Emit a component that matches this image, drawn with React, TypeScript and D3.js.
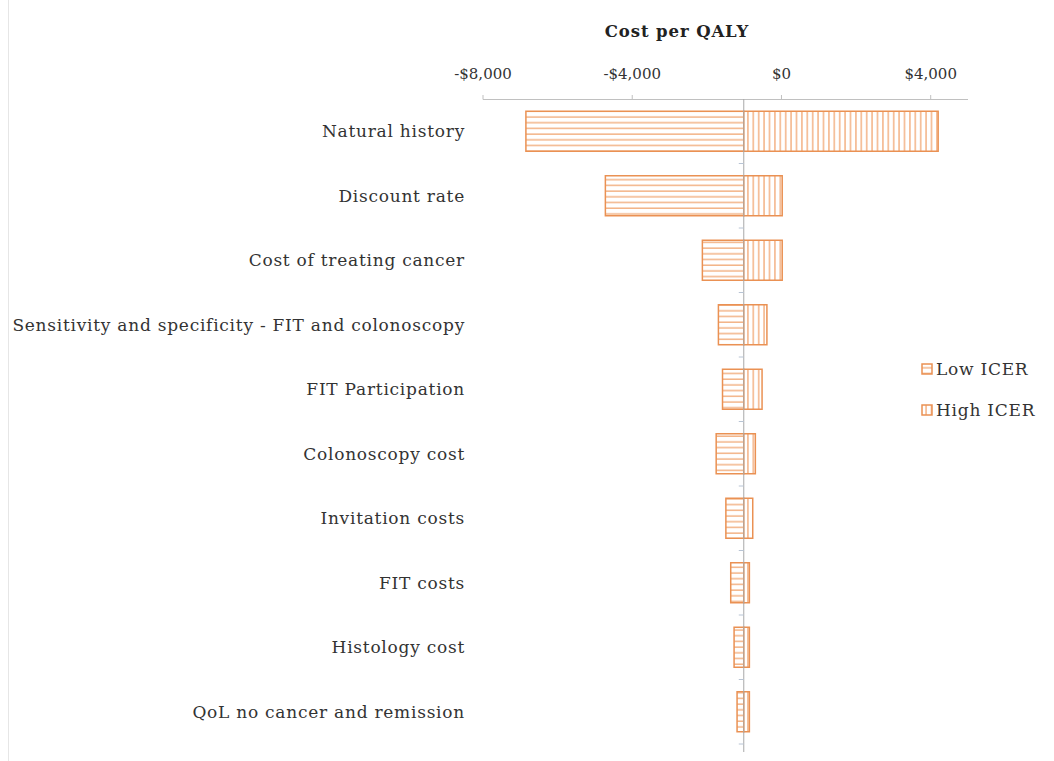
import React from 'react';
import * as d3 from 'd3';

// tornado chart: cost per QALY sensitivity
const categories = [
  'Natural history',
  'Discount rate',
  'Cost of treating cancer',
  'Sensitivity and specificity - FIT and colonoscopy',
  'FIT Participation',
  'Colonoscopy cost',
  'Invitation costs',
  'FIT costs',
  'Histology cost',
  'QoL no cancer and remission',
];
const baseValue = -1010;
const lowIcer = [-6850, -4720, -2120, -1690, -1580, -1750, -1490, -1360, -1270, -1190];
const highIcer = [4200, 20, 20, -390, -520, -700, -770, -860, -860, -860];
const xTicks = [-8000, -4000, 0, 4000];
const legendLabels = ['Low ICER', 'High ICER'];

const W = 1054;
const H = 761;
const FONT = '"DejaVu Serif", serif';
const ORANGE = '#EA9153';
const STRIPE = '#F0A068';

const fmt = (v: number) => (v < 0 ? '-$' : '$') + d3.format(',')(Math.abs(v));

export default function App() {
  const x = d3.scaleLinear().domain([-8000, 5000]).range([483, 968]);
  const y = d3.scaleBand<string>().domain(categories).range([99, 744]).paddingInner(0.38).paddingOuter(0.19);
  const x0 = x(baseValue);

  return (
    <svg width={W} height={H} style={{ position: 'absolute', left: 0, top: 0, background: '#fff' }}>
      <defs>
        <pattern id="lowPat" patternUnits="userSpaceOnUse" width={6} height={5.7}>
          <rect width={6} height={5.7} fill="#fff" />
          <line x1={0} x2={6} y1={3} y2={3} stroke={STRIPE} strokeWidth={1.2} />
        </pattern>
        <pattern id="highPat" patternUnits="userSpaceOnUse" width={5.4} height={6}>
          <rect width={5.4} height={6} fill="#fff" />
          <line x1={2.7} x2={2.7} y1={0} y2={6} stroke={STRIPE} strokeWidth={1.2} />
        </pattern>
      </defs>

      <line x1={8.5} x2={8.5} y1={0} y2={H} stroke="#e6e6e6" />

      {/* title */}
      <text x={677} y={37} textAnchor="middle" fontFamily={FONT} fontWeight="bold" fontSize={16.5} letterSpacing={0.9} fill="#222">
        Cost per QALY
      </text>

      {/* top value axis */}
      <line x1={x.range()[0]} x2={x.range()[1]} y1={99.5} y2={99.5} stroke="#c0c0c0" />
      {xTicks.map((t) => (
        <g key={t}>
          <line x1={x(t)} x2={x(t)} y1={95} y2={99.5} stroke="#c0c0c0" />
          <text x={x(t)} y={79} textAnchor="middle" fontFamily={FONT} fontSize={15} fill="#333">
            {fmt(t)}
          </text>
        </g>
      ))}

      {/* bars */}
      {categories.map((c, i) => {
        const yy = y(c)!;
        const h = y.bandwidth();
        const lx = x(Math.min(lowIcer[i], baseValue));
        const hx = x(Math.max(highIcer[i], baseValue));
        return (
          <g key={c}>
            <rect x={lx} y={yy} width={x0 - lx} height={h} fill="url(#lowPat)" stroke={ORANGE} strokeWidth={1.5} />
            <rect x={x0} y={yy} width={hx - x0} height={h} fill="url(#highPat)" stroke={ORANGE} strokeWidth={1.5} />
            <text
              x={465}
              y={yy + h / 2}
              dy="0.35em"
              textAnchor="end"
              fontFamily={FONT}
              fontSize={17}
              letterSpacing={0.75}
              fill="#333"
            >
              {c}
            </text>
          </g>
        );
      })}

      {/* category axis at base value */}
      <line x1={x0} x2={x0} y1={99} y2={752} stroke="#a8a8a8" />
      {categories.map((c, i) => {
        const yb = y(c)! - (y.step() * y.paddingInner()) / 2;
        return i === 0 ? null : <line key={c} x1={x0 - 5} x2={x0} y1={yb} y2={yb} stroke="#b8c4d4" />;
      })}
      <line x1={x0 - 5} x2={x0} y1={744} y2={744} stroke="#b8c4d4" />

      {/* legend */}
      {legendLabels.map((l, i) => {
        const ly = 369 + i * 41;
        return (
          <g key={l}>
            <rect
              x={922}
              y={ly - 5}
              width={10}
              height={10}
              fill={i === 0 ? 'url(#lowPat)' : 'url(#highPat)'}
              stroke={ORANGE}
              strokeWidth={1.5}
            />
            <text x={936} y={ly} dy="0.35em" fontFamily={FONT} fontSize={17} letterSpacing={0.75} fill="#333">
              {l}
            </text>
          </g>
        );
      })}
    </svg>
  );
}
